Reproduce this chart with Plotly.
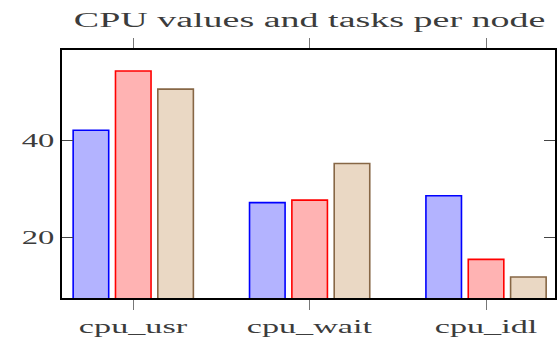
import plotly.graph_objects as go

# Categories and per-node series
categories = ["cpu_usr", "cpu_wait", "cpu_idl"]
series_a = [42.0, 27.2, 28.6]
series_b = [54.1, 27.7, 15.6]
series_c = [50.4, 35.2, 12.0]
y_ticks = [20, 40]

styles = [
    ("rgb(179,179,255)", "rgb(0,0,255)"),
    ("rgb(255,179,179)", "rgb(255,0,0)"),
    ("rgb(234,216,196)", "rgb(135,103,70)"),
]

fig = go.Figure()
x_pos = list(range(len(categories)))
for vals, (fill, edge) in zip([series_a, series_b, series_c], styles):
    fig.add_trace(go.Bar(
        x=x_pos, y=vals, base=0,
        marker=dict(color=fill, line=dict(color=edge, width=1.6)),
        showlegend=False,
    ))

serif = "Liberation Serif"
text_col = "#3c3c3c"
fig.update_layout(
    width=559, height=338,
    margin=dict(l=62, r=4, t=50, b=40, autoexpand=False),
    paper_bgcolor="white", plot_bgcolor="white",
    barmode="group", bargap=0.28, bargroupgap=0.16,
    title=dict(text="CPU values and tasks per node", x=0.554, xanchor="center",
               y=0.94, yanchor="middle", automargin=False,
               font=dict(family=serif, size=20, color=text_col)),
    font=dict(family=serif, color=text_col),
)
fig.update_xaxes(
    range=[-0.404, 2.391], tickvals=x_pos, ticktext=categories,
    ticks="outside", ticklen=10, tickcolor="#777", tickwidth=1.2,
    showline=True, linecolor="black", linewidth=1.5, mirror="ticks",
    showgrid=False, zeroline=False, automargin=False, ticklabelstandoff=0,
    tickfont=dict(size=19, family=serif, color=text_col),
)
fig.update_yaxes(
    range=[7.7, 58.4], tickvals=y_ticks,
    ticks="inside", ticklen=11, tickcolor="#444", tickwidth=1.2,
    showline=True, linecolor="black", linewidth=1.5, mirror="ticks",
    showgrid=False, zeroline=False, automargin=False, ticklabelstandoff=2,
    tickfont=dict(size=19, family=serif, color=text_col),
)

# Widen the lettering horizontally (wide serif typesetting look)
stretch_js = """
var gd = document.getElementById('{plot_id}');
function widen(sel, sx, anchor) {
  gd.querySelectorAll(sel).forEach(function (t) {
    if (!t.hasAttribute('data-orig-tf')) {
      t.setAttribute('data-orig-tf', t.getAttribute('transform') || '');
    }
    var b = t.getBBox();
    var cx = anchor === 'right' ? b.x + b.width : b.x + b.width / 2;
    t.setAttribute('transform', t.getAttribute('data-orig-tf') +
      ' translate(' + cx + ',0) scale(' + sx + ',1) translate(' + (-cx) + ',0)');
  });
}
function widenAll() {
  widen('.xtick text', 1.8, 'center');
  widen('.ytick text', 1.72, 'right');
  widen('.gtitle', 1.9, 'center');
}
widenAll();
gd.on('plotly_afterplot', widenAll);
"""

fig.write_html("out.html", post_script=stretch_js)
